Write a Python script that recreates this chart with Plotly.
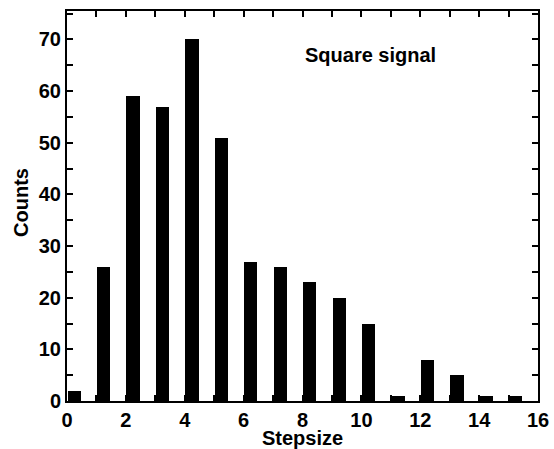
import plotly.graph_objects as go

# Step-size histogram of the square signal
steps = list(range(16))
counts = [2, 26, 59, 57, 70, 51, 27, 26, 23, 20, 15, 1, 8, 5, 1, 1]

FONT = "Liberation Sans, Arial, sans-serif"

fig = go.Figure(
    go.Bar(
        x=steps,
        y=counts,
        width=0.45,
        offset=0.02,
        marker=dict(color="black", line=dict(width=0)),
        showlegend=False,
    )
)

axis_common = dict(
    showline=True,
    linewidth=2,
    linecolor="black",
    mirror="ticks",
    ticks="inside",
    ticklen=6,
    tickwidth=1.5,
    tickcolor="black",
    showgrid=False,
    zeroline=False,
    automargin=False,
    tickfont=dict(family=FONT, size=20, color="black", weight="bold"),
)

fig.update_xaxes(
    range=[0, 16],
    dtick=2,
    tick0=0,
    minor=dict(dtick=1, ticks="inside", ticklen=6, tickwidth=1.5, tickcolor="black"),
    **axis_common,
)
fig.update_yaxes(
    range=[0, 75.5],
    dtick=10,
    tick0=0,
    minor=dict(dtick=5, ticks="inside", ticklen=6, tickwidth=1.5, tickcolor="black"),
    **axis_common,
)

title_font = dict(family=FONT, size=20, color="black")

# Axis titles placed as paper-anchored annotations
fig.add_annotation(
    x=0.5, y=-0.095, xref="paper", yref="paper",
    text="<b>Stepsize</b>", showarrow=False, font=title_font,
    xanchor="center", yanchor="middle",
)
fig.add_annotation(
    x=-0.098, y=0.51, xref="paper", yref="paper",
    text="<b>Counts</b>", showarrow=False, font=title_font, textangle=-90,
    xanchor="center", yanchor="middle",
)

fig.add_annotation(
    x=10.3, y=67, xref="x", yref="y",
    text="<b>Square signal</b>",
    showarrow=False,
    font=title_font,
    xanchor="center", yanchor="middle",
)

fig.update_layout(
    width=554,
    height=449,
    margin=dict(l=67, r=16, t=11, b=48),
    plot_bgcolor="white",
    paper_bgcolor="white",
    bargap=0,
)

fig.write_html("out.html")
